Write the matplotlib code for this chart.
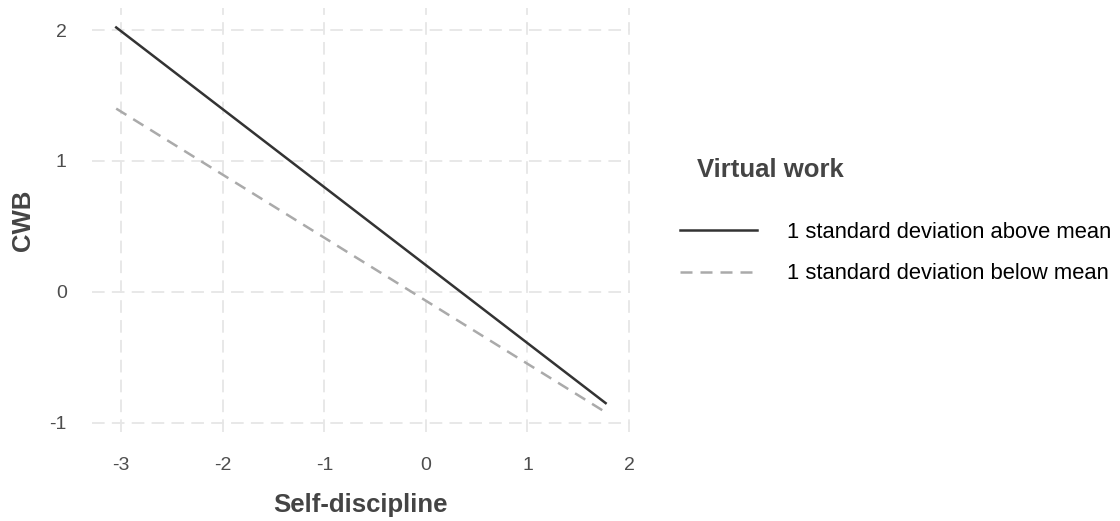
import matplotlib
matplotlib.use('Agg')
import matplotlib.pyplot as plt
from matplotlib.lines import Line2D

plt.rcParams['font.family'] = ['Liberation Sans', 'DejaVu Sans']
plt.rcParams['axes.unicode_minus'] = False

# self-discipline range and predicted CWB at each end
sd_range = [-3.05, 1.77]
cwb_above = [2.02, -0.85]
cwb_below = [1.40, -0.92]
labels = ['1 standard deviation above mean', '1 standard deviation below mean']

x_ticks = [-3, -2, -1, 0, 1, 2]
y_ticks = [-1, 0, 1, 2]

fig = plt.figure(figsize=(11.2, 5.21), dpi=100)
ax = fig.add_axes([0.082, 0.171, 0.4805, 0.814])

dash = (0, (4.8, 3.2))
ax.plot(sd_range, cwb_above, color='#333333', lw=1.8)
ax.plot(sd_range, cwb_below, color='#aaaaaa', lw=1.8, ls=dash)

ax.set_xlim(-3.29, 2.01)
ax.set_ylim(-1.07, 2.17)
ax.set_xticks(x_ticks)
ax.set_yticks(y_ticks)
ax.grid(True, color='#e6e6e6', ls=(0, (7, 4)), lw=1.3)
ax.set_axisbelow(True)
for s in ax.spines.values():
    s.set_visible(False)
ax.tick_params(axis='x', length=0, labelsize=14, labelcolor='#4d4d4d', pad=18)
ax.tick_params(axis='y', length=0, labelsize=14, labelcolor='#4d4d4d', pad=18)

ax.set_xlabel('Self-discipline', fontsize=18.5, fontweight='bold', color='#444444')
ax.set_ylabel('CWB', fontsize=18.5, fontweight='bold', color='#444444')
ax.xaxis.set_label_coords(0.5, -0.172)
ax.xaxis.label.set_va('center')
ax.yaxis.set_label_coords(-0.128, 0.5)
ax.yaxis.label.set_va('center')

handles = [Line2D([], [], color='#333333', lw=1.8),
           Line2D([], [], color='#aaaaaa', lw=1.8, ls=dash)]
fig.legend(handles, labels, loc='center left', bbox_to_anchor=(0.607, 0.514),
           frameon=False, fontsize=15.8, borderpad=0, borderaxespad=0,
           handlelength=3.5, handletextpad=1.37, labelspacing=0.92)
fig.text(697 / 1120, 1 - 170 / 521, 'Virtual work', fontsize=18.5, fontweight='bold',
         color='#444444', va='center')

fig.savefig('out.png', dpi=100)
